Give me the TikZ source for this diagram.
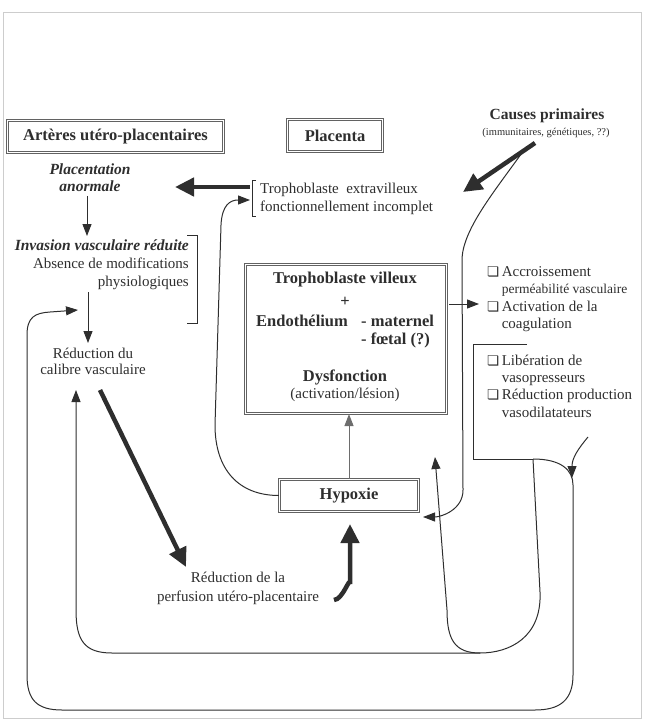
\documentclass[tikz,border=0pt]{standalone}
\usepackage{fontspec}
\setmainfont{Liberation Serif}
\newfontfamily\pucefont{DejaVu Sans}
\usepackage{tkz-euclide}
\usetikzlibrary{arrows.meta}
\definecolor{ink}{HTML}{2E2E2E}
\definecolor{framegray}{HTML}{CDCDCD}
\newcommand{\puce}{{\pucefont\fontsize{13.5}{13.5}\selectfont ❏}}
\tikzset{
  txt/.style={text=ink,inner sep=1pt,align=center,font=\fontsize{15}{18}\selectfont},
  bft/.style={txt,font=\fontsize{16.5}{19}\selectfont\bfseries},
  bit/.style={txt,font=\fontsize{15.5}{17}\selectfont\bfseries\itshape},
  dbox/.style={bft,draw=ink!75,line width=1.1pt,double=white,double distance=1.6pt,inner sep=0pt},
  wire/.style={draw=ink,line width=1pt},
  arr/.style={wire,-{Triangle[length=12pt,width=9pt]}},
  fat/.style={draw=ink,line width=4.5pt,-{Triangle[length=19pt,width=18pt]}},
}

\begin{document}
\begin{tikzpicture}[x=1pt,y=-1pt]
    \useasboundingbox (0,0) rectangle (646,727);
    \draw[framegray,line width=1pt] (3,13) rectangle (641,718);

    \tkzDefPoints{250/187/E1, 175/187/E2, 535/143/K1, 463/192/K2, 524/150/L1,
      462/258/L2, 463/490/L3, 423/517/L4, 215/425/H1, 221/225/H2, 250/200/X1,
      88/292/M1, 88/343/M2, 87/196/N1, 87/236/N2,
      78/310/O1, 50/312/O9, 27/335/O2, 27/675/O3, 62/710/O4, 535/710/O5,
      573/675/O6, 573/485/O7, 533/459/O8, 588/437/S1, 572/478/S2,
      527/344/V1, 473/344/V2, 473/459/V3,
      540/592/I1, 480/653/I2, 112/653/I3, 76/610/I4, 76/390/I5, 447/610/I6, 435/457/I7,
      100/390/P1, 186/567/P2, 334/600/Q1, 350/584/Q3, 350/524/Q2,
      449/304/T1, 479/304/T2}

    \node[dbox,minimum width=216,minimum height=32] (arteres) at (115.5,136.5) {Artères utéro-placentaires};
    \node[dbox,minimum width=95,minimum height=32] (placenta) at (335,135.5) {Placenta};
    \node[dbox,minimum width=139,minimum height=32] (hypoxie) at (349,495.5) {Hypoxie};
    \node[dbox,minimum width=201,minimum height=149] (tropho) at (346,339) {};

    \node[bft,font=\fontsize{15.5}{18}\selectfont\bfseries] (causes) at (547,116) {Causes primaires};
    \node[txt,font=\fontsize{10.5}{12}\selectfont] (causesb) at (546,133) {(immunitaires, génétiques, ??)};
    \node[bit] (placent) at (90,178) {Placentation\\anormale};
    \node[txt,align=right,anchor=east] (inv) at (190,265)
      {{\fontsize{15.5}{18}\selectfont\bfseries\itshape Invasion vasculaire réduite}\\Absence de modifications\\physiologiques};
    \node[txt,font=\fontsize{15}{16}\selectfont] (calibre) at (93,361) {Réduction du\\calibre vasculaire};
    \node[txt,font=\fontsize{15}{19}\selectfont] (perf) at (238,588) {Réduction de la\\perfusion utéro-placentaire};
    \node[txt,align=left,anchor=west] (extra) at (259,199) {Trophoblaste\ \ extravilleux\\fonctionnellement incomplet};

    \node[bft] (villeux) at (345,280) {Trophoblaste villeux};
    \node[bft] (plus) at (345,302) {+};
    \node[bft,anchor=west] (endo) at (255,321) {Endothélium};
    \node[bft,anchor=west] (mat) at (360,321) {- maternel};
    \node[bft,anchor=west] (foet) at (360,340) {- fœtal (?)};
    \node[bft] (dys) at (345,377) {Dysfonction};
    \node[txt] (lesion) at (345,395) {(activation/lésion)};

    \node[txt,align=left,anchor=west] (liste1) at (486,299)
      {\renewcommand\arraystretch{0.96}\begin{tabular}{@{}l@{\,}l@{}}
       \puce & Accroissement\\ & {\fontsize{13.5}{17}\selectfont perméabilité vasculaire}\\
       \puce & Activation de la\\ & coagulation\end{tabular}};
    \node[txt,align=left,anchor=west] (liste2) at (486,388)
      {\renewcommand\arraystretch{0.95}\begin{tabular}{@{}l@{\,}l@{}}
       \puce & Libération de\\ & vasopresseurs\\
       \puce & Réduction production\\ & vasodilatateurs\end{tabular}};

    \draw[wire] (256,181) -- (252,181) -- (252,217) -- (256,217);
    \draw[wire] (187,235) -- (197,235) -- (197,323) -- (187,323);
    \draw[wire] (V1) -- (V2) -- (V3) -- (O8);

    \draw[fat] (E1) -- (E2);
    \draw[fat] (K1) -- (K2);
    \draw[fat] (P1) -- (P2);
    \draw[fat] (Q1) to[out=0,in=90] (Q3) -- (Q2);

    \draw[arr] (N1) -- (N2);
    \draw[arr] (M1) -- (M2);
    \draw[arr] (T1) -- (T2);
    \draw[arr,draw=ink!70] (hypoxie.north) -- (hypoxie.north |- tropho.south);
    \draw[arr] (L1) .. controls +(-30,42) and +(2,-30) .. (L2) -- (L3)
      .. controls +(0,20) and +(18,0) .. (L4);
    \draw[arr] (hypoxie.west) .. controls +(-40,0) and +(0,45) .. (H1) -- (H2)
      .. controls +(1,-20) and +(-20,0) .. (X1);
    \draw[arr] (O8) .. controls +(28,0) and +(0,-15) .. (O7) -- (O6)
      .. controls +(0,25) and +(25,0) .. (O5) -- (O4)
      .. controls +(-25,0) and +(0,25) .. (O3) -- (O2)
      .. controls +(0,-18) and +(-15,1) .. (O9) -- (O1);
    \draw[arr] (S1) .. controls +(-10,12) and +(0,-20) .. (S2);
    \draw[arr] (O8) -- (I1) .. controls +(2,45) and +(30,0) .. (I2) -- (I3)
      .. controls +(-28,0) and +(0,30) .. (I4) -- (I5);
    \draw[arr] (I2) .. controls +(-25,0) and +(0,30) .. (I6) -- (I7);
\end{tikzpicture}
\end{document}
